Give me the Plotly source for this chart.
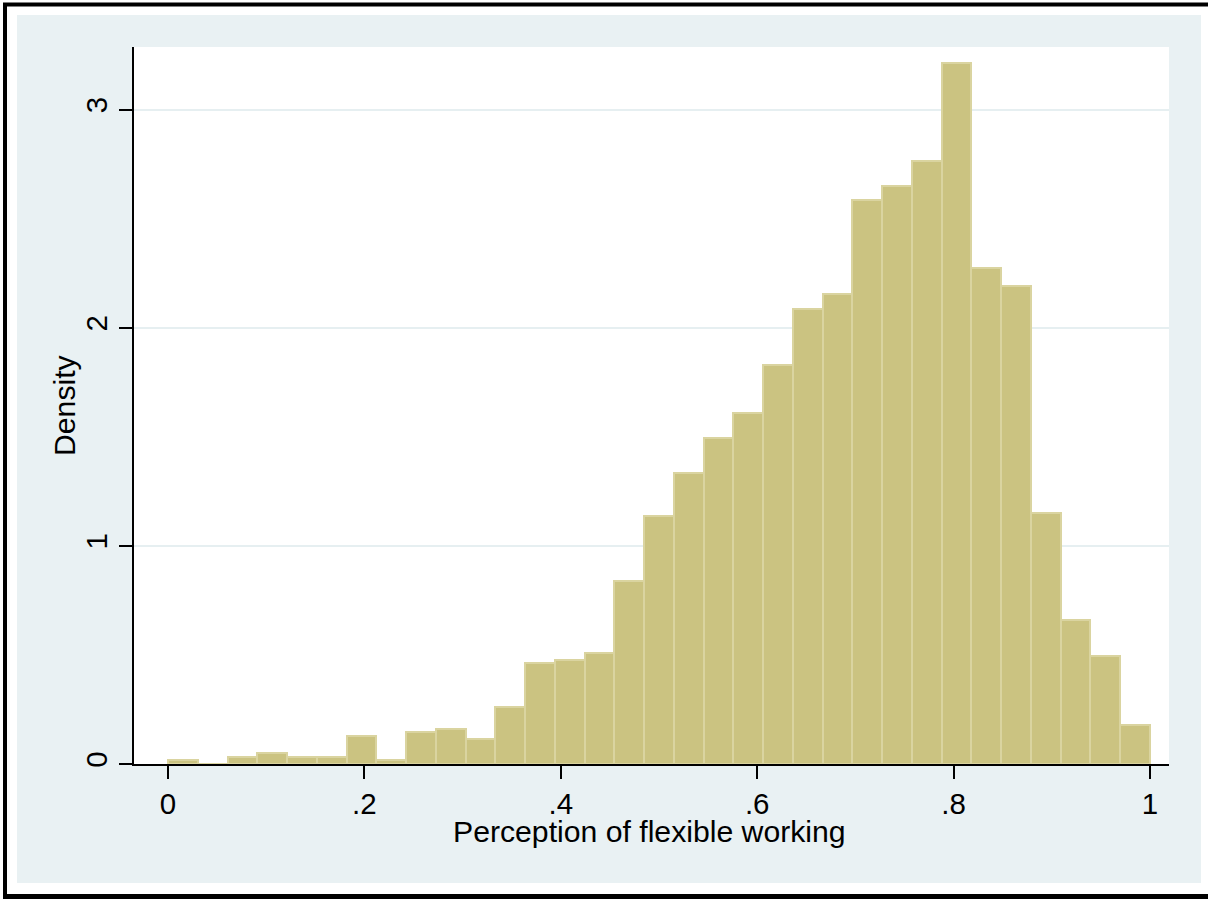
import plotly.graph_objects as go

# ---- data ----
n_bins = 33
bin_start = 0.0
bin_end = 1.0
density = [0.018, 0.0, 0.034, 0.050, 0.032, 0.032, 0.130, 0.018, 0.147, 0.162,
           0.113, 0.262, 0.462, 0.478, 0.511, 0.839, 1.136, 1.335, 1.496, 1.611,
           1.828, 2.087, 2.155, 2.583, 2.650, 2.765, 3.212, 2.272, 2.190, 1.152,
           0.658, 0.496, 0.179]
x_tickvals = [0, 0.2, 0.4, 0.6, 0.8, 1]
x_ticktext = ["0", ".2", ".4", ".6", ".8", "1"]
y_tickvals = [0, 1, 2, 3]
y_ticktext = ["0", "1", "2", "3"]
x_title = "Perception of flexible working"
y_title = "Density"

# ---- styling ----
FILL = "#CBC381"
EDGE = "#DAD4A0"
BG = "#E9F1F3"
GRID = "#E6EFF1"
FONT = "Liberation Sans, Arial, Helvetica, sans-serif"
FS = 29.5
FS_TITLE = 30.2

bw = (bin_end - bin_start) / n_bins
centers = [bin_start + bw * (i + 0.5) for i in range(n_bins)]

fig = go.Figure()
fig.add_trace(go.Bar(
    x=centers, y=density, width=[bw] * n_bins,
    marker=dict(color=FILL, line=dict(color=EDGE, width=2)),
    hoverinfo="x+y", showlegend=False,
))

W, H = 1208, 899
L, R, T, B = 134, 1169, 47, 764  # plot area in pixels
pw, ph = R - L, B - T


def px(xp):
    return (xp - L) / pw


def py(yp):
    return (B - yp) / ph


shapes = [
    dict(type="rect", xref="paper", yref="paper", layer="below",
         x0=px(17), x1=px(1201), y0=py(883), y1=py(15),
         fillcolor=BG, line=dict(width=0)),
    dict(type="rect", xref="paper", yref="paper", layer="below",
         x0=0, x1=1, y0=0, y1=1, fillcolor="white", line=dict(width=0)),
    dict(type="line", xref="paper", yref="paper", layer="above",
         x0=px(5), x1=px(5), y0=py(899), y1=py(3), line=dict(color="black", width=4)),
    dict(type="line", xref="paper", yref="paper", layer="above",
         x0=px(3), x1=px(1208), y0=py(4.5), y1=py(4.5), line=dict(color="black", width=4)),
    dict(type="line", xref="paper", yref="paper", layer="above",
         x0=px(3), x1=px(1208), y0=py(896.5), y1=py(896.5), line=dict(color="black", width=5)),
]

annotations = [
    dict(text=x_title, xref="paper", yref="paper", x=px(649.5), y=py(831.5),
         xanchor="center", yanchor="middle", showarrow=False,
         font=dict(size=FS_TITLE, family=FONT, color="black")),
    dict(text=y_title, xref="paper", yref="paper", x=px(64), y=py(405),
         xanchor="center", yanchor="middle", showarrow=False, textangle=-90,
         font=dict(size=FS_TITLE, family=FONT, color="black")),
]

x0_px, x1_px = 168.0, 1150.0
x_per = x1_px - x0_px
xr = [(L - x0_px) / x_per, (R - x0_px) / x_per]
y_per = (B - 109.5) / 3.0
yr = [0, (B - T) / y_per]

fig.update_layout(
    width=W, height=H,
    margin=dict(l=L, r=W - R, t=T, b=H - B, pad=0),
    paper_bgcolor="white", plot_bgcolor="white",
    font=dict(family=FONT, size=FS, color="black"),
    bargap=0,
    shapes=shapes,
    annotations=annotations,
    xaxis=dict(
        range=xr, tickmode="array", tickvals=x_tickvals, ticktext=x_ticktext,
        showgrid=False, zeroline=False, showline=True, linecolor="black", linewidth=1.5,
        ticks="outside", ticklen=13, tickwidth=1.5, tickcolor="black",
        tickfont=dict(size=FS, family=FONT, color="black"),
        fixedrange=True,
    ),
    yaxis=dict(
        range=yr, tickmode="array", tickvals=y_tickvals, ticktext=y_ticktext,
        tickangle=-90,
        showgrid=True, gridcolor=GRID, gridwidth=2, zeroline=False,
        showline=True, linecolor="black", linewidth=1.5,
        ticks="outside", ticklen=13, tickwidth=1.5, tickcolor="black",
        tickfont=dict(size=FS, family=FONT, color="black"),
        fixedrange=True,
    ),
)

fig.write_html("out.html", config={"displayModeBar": False},
               post_script="document.body.style.margin='0';")
